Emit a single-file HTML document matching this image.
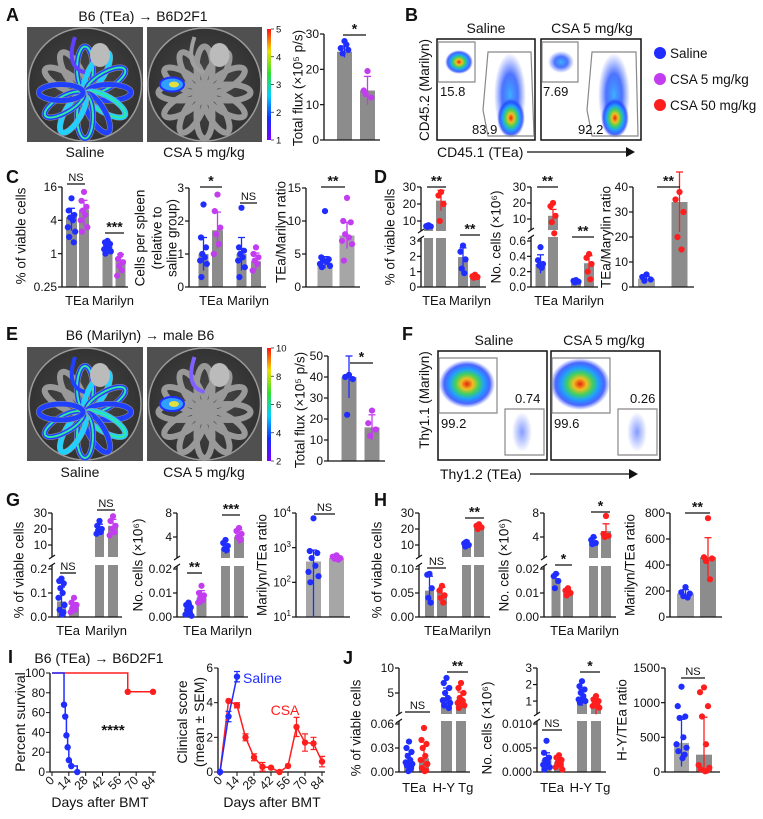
<!DOCTYPE html>
<html><head><meta charset="utf-8">
<style>
html,body{margin:0;padding:0;background:#fff;}
svg{display:block;font-family:"Liberation Sans",sans-serif;}
</style></head>
<body>
<svg id="fig" width="763" height="819" viewBox="0 0 763 819" xmlns="http://www.w3.org/2000/svg">
<defs>
<linearGradient id="cbar" x1="0" y1="1" x2="0" y2="0">
<stop offset="0" stop-color="#7a00ff"/><stop offset="0.2" stop-color="#1030ff"/><stop offset="0.4" stop-color="#00d0ff"/><stop offset="0.6" stop-color="#30e030"/><stop offset="0.8" stop-color="#f0e000"/><stop offset="1" stop-color="#ff1010"/>
</linearGradient>
<radialGradient id="jet">
<stop offset="0" stop-color="#e82010"/><stop offset="0.22" stop-color="#f0c020"/><stop offset="0.42" stop-color="#40d060"/><stop offset="0.62" stop-color="#20a0ff"/><stop offset="0.82" stop-color="#2040ff" stop-opacity="0.8"/><stop offset="1" stop-color="#4060ff" stop-opacity="0"/>
</radialGradient>
<radialGradient id="jetb">
<stop offset="0" stop-color="#40b0ff"/><stop offset="0.5" stop-color="#2050ff" stop-opacity="0.8"/><stop offset="1" stop-color="#4060ff" stop-opacity="0"/>
</radialGradient>
<radialGradient id="sparse">
<stop offset="0" stop-color="#5070ff" stop-opacity="0.7"/><stop offset="1" stop-color="#5070ff" stop-opacity="0"/>
</radialGradient>
<radialGradient id="dish" cx="0.5" cy="0.5" r="0.6">
<stop offset="0" stop-color="#4a4a4a"/><stop offset="1" stop-color="#2e2e2e"/>
</radialGradient>
</defs>
</svg>
<script>
// ===== DATA =====
const fluxA_means=[25,14]; const fluxA_err=[1.6,4];
const fluxA_saline=[28,26,25.5,24.5,27]; const fluxA_csa=[19.5,14,12,13];
const c1_means=[4.6,6.2,1.35,0.78]; const c1_err=[2,3,0.3,0.2];
const c1_pts=[[10,6,5,4.5,4,3,2.5,2,1.6],[13,9,7,6,5,4,3,2.5],[1.7,1.6,1.5,1.4,1.3,1.2,1.1,1.0],[0.95,0.8,0.7,0.6,0.5,0.4]];
const c2_means=[1.0,1.72,1.0,0.78]; const c2_err=[0.5,0.55,0.5,0.25];
const c2_pts=[[2.5,1.5,1.2,1.0,0.9,0.8,0.7,0.3],[2.8,2.3,1.8,1.6,1.3,1.0],[2.4,1.2,1.1,1.0,0.9,0.8,0.6,0.3],[1.2,1.0,0.9,0.8,0.7,0.5]];
const c3_means=[3.7,7.8]; const c3_err=[0.9,2];
const c3_pts=[[11.5,4.5,4.2,4,3.8,3.5,3.2,3],[13.5,10,9.8,8,7.5,7,6.5,4]];
const d1_means=[7,22,1.95,0.7]; const d1_err=[0.4,6,0.6,0.1];
const d1_pts=[[7.5,7,6.8,6.5],[27,25,20,10],[2.7,2.3,1.8,1.2,0.9],[0.8,0.7,0.65,0.6]];
const d2_means=[0.3,12,0.07,0.31]; const d2_err=[0.12,4,0.01,0.1];
const d2_pts=[[0.52,0.35,0.3,0.28,0.25],[20,18,12,8,3],[0.09,0.08,0.07,0.06],[0.43,0.38,0.3,0.2,0.1]];
const d3_means=[3.3,34]; const d3_err=[1,12];
const d3_pts=[[5,4,3,2.5],[38,35,30,20,15]];
const fluxE_means=[40,16]; const fluxE_err=[10,6];
const fluxE_saline=[41,40,39,22]; const fluxE_csa=[24,18,15,12];
const g1_means=[0.065,0.04,20,22]; const g1_err=[0.06,0.02,3,4];
const g1_pts=[[0.16,0.15,0.14,0.12,0.1,0.08,0.05,0.03,0.02,0.01],[0.08,0.06,0.05,0.04,0.03,0.02],[25,22,20,19,18,17],[28,25,22,20,18,16]];
const g2_means=[0.0035,0.008,2,4]; const g2_err=[0.002,0.003,0.8,1.2];
const g2_pts=[[0.006,0.005,0.004,0.003,0.002,0.001,0.0005],[0.013,0.01,0.009,0.008,0.007,0.006],[3.5,3,2.5,2,1.8],[5.5,5,4.5,4,3.5]];
const g3_means=[400,500]; const g3_err=[450,100];
const g3_pts=[[7000,800,700,500,300,200,150,100],[600,550,500,480,450]];
const h1_means=[0.055,0.05,11,21]; const h1_err=[0.03,0.012,1.5,1];
const h1_pts=[[0.09,0.088,0.06,0.04,0.03],[0.065,0.055,0.045,0.04,0.03],[12,11,10,9],[23,22,21,20]];
const h2_means=[0.016,0.01,3.4,5]; const h2_err=[0.002,0.0012,0.5,1.2];
const h2_pts=[[0.018,0.017,0.015,0.012],[0.012,0.011,0.01,0.009],[4,3.5,3,2.8],[7.5,4.5,4.2,4]];
const h3_means=[180,460]; const h3_err=[30,150];
const h3_pts=[[230,190,180,160,150],[760,460,450,430,290]];
const j1_means=[0.013,0.017,4.2,3.7]; const j1_err=[0.01,0.015,1.8,1.5];
const j1_pts=[[0.038,0.03,0.025,0.02,0.015,0.012,0.01,0.008,0.005,0.003,0.001],[0.055,0.04,0.035,0.03,0.02,0.015,0.01,0.005,0.002,0.001],[8,7,6,5,4,3.5,3,2.5,2],[7,6,5,4,3.5,3,2.5,2]];
const j2_means=[0.0025,0.002,1.2,0.6]; const j2_err=[0.0015,0.001,0.5,0.3];
const j2_pts=[[0.0065,0.004,0.003,0.0025,0.002,0.0015,0.001,0.0005],[0.0035,0.003,0.0025,0.002,0.0015,0.001,0.0005],[2.2,1.9,1.7,1.5,1.3,1.1,1.0,0.9],[1.3,1.1,1,0.9,0.8,0.7,0.6]];
const j3_means=[420,250]; const j3_err=[340,540];
const j3_pts=[[1230,950,800,780,500,400,350,300,250,200],[1220,1150,950,800,400,100,60,40,20,10]];
const survSalineDays=[0,10,11,12,13,14,16,21]; const survSalineVals=[100,68,56,37,25,12,6,0];
const survCsaDays=[0,63,84]; const survCsaVals=[100,81,81];
const survDayTicks=[0,14,28,42,56,70,84]; const survValTicks=[0,20,40,60,80,100];
const clinSalineDays=[0,7,14]; const clinSalineVals=[0,3.2,5.5]; const clinSalineSem=[0,0.3,0.3];
const clinCsaDays=[0,7,14,21,28,35,42,49,56,63,70,77,84];
const clinCsaVals=[0,4.1,3.85,2.0,0.85,0.3,0.25,0,0.35,2.6,1.7,1.65,0.6];
const clinCsaSem=[0,0,0.15,0.2,0.2,0.25,0.05,0,0.05,0.55,0.5,0.35,0.3];
const clinValTicks=[0,2,4,6];

// ===== HELPERS =====
const NS='http://www.w3.org/2000/svg';
const svg=document.getElementById('fig');
const BLUE='#1f2dff', PURP='#c23cf0', RED='#ff1e1e', GRAY='#8c8c8c', LGRAY='#a6a6a6';
function mk(tag,attrs,parent){const e=document.createElementNS(NS,tag);for(const k in attrs)e.setAttribute(k,attrs[k]);(parent||svg).appendChild(e);return e;}
function text(x,y,s,size,parent,extra){const t=mk('text',Object.assign({x:x,y:y,'font-size':size,fill:'#111'},extra||{}),parent);t.textContent=s;return t;}
function makeScale(segs){return function(v){for(let i=0;i<segs.length;i++){const s=segs[i];if(v<=s.hi||i===segs.length-1){if(i>0&&v<s.lo){const p=segs[i-1];return p.y1+(v-p.hi)/(s.lo-p.hi)*(s.y0-p.y1);}
 if(s.log){const vv=Math.max(v,s.lo*0.5);return s.y0+(Math.log(vv)-Math.log(s.lo))/(Math.log(s.hi)-Math.log(s.lo))*(s.y1-s.y0);}
 return s.y0+(v-s.lo)/(s.hi-s.lo)*(s.y1-s.y0);}}};}
const JIT=[0,-3,3,-1.5,1.5,-4,4,-2.5,2.5,0.8,-0.8];

function drawChart(name,c){
 const g=mk('g',{});
 
 
 const y=makeScale(c.segs);
 const yb=y(c.segs[0].lo);
 c.groups.forEach(function(gr,i){
  const yt=y(c.means[i]);
  const r=mk('rect',{x:gr.cx-gr.w/2,y:yt,width:gr.w,height:yb-yt,fill:gr.bar||GRAY},g);
  
  
 });
 if(c.gap){
  const b=mk('rect',{x:c.ax+1,y:c.gap[0],width:c.xr-c.ax,height:c.gap[1]-c.gap[0],fill:'#fff'},g);
  
  
 }
 const top=y(c.segs[c.segs.length-1].hi);
 if(c.gap){
  const a1=mk('line',{x1:c.ax,y1:yb,x2:c.ax,y2:c.gap[1],stroke:'#111','stroke-width':1.3},g);
  
  
  const a2=mk('line',{x1:c.ax,y1:c.gap[0],x2:c.ax,y2:top,stroke:'#111','stroke-width':1.3},g);
  
  
  [c.gap[0],c.gap[1]].forEach(function(gy){
   const s=mk('line',{x1:c.ax-3,y1:gy+2,x2:c.ax+3,y2:gy-2,stroke:'#111','stroke-width':1.2},g);
   
   
  });
 } else {
  const a=mk('line',{x1:c.ax,y1:yb,x2:c.ax,y2:top,stroke:'#111','stroke-width':1.3},g);
  
  
 }
 const xa=mk('line',{x1:c.ax,y1:yb,x2:c.xr,y2:yb,stroke:'#111','stroke-width':1.3},g);
 
 
 c.ticks.forEach(function(v,i){
  const ty=y(v);
  const tl=mk('line',{x1:c.ax-4,y1:ty,x2:c.ax,y2:ty,stroke:'#111','stroke-width':1.2},g);
  
  
  const t=text(c.ax-5,ty+4.2,'',12,g,{'text-anchor':'end'});
  if(c.tickSup){t.textContent='10';const ts=mk('tspan',{'font-size':8,dy:-5},t);ts.textContent=c.tickLabels[i];}
  else t.textContent=c.tickLabels[i];
  
  
 });
 c.groups.forEach(function(gr,i){
  const m=c.means[i],e=c.err[i];
  const yh=y(m+e), yl=y(Math.max(m-e,c.segs[0].lo));
  const el=mk('line',{x1:gr.cx,y1:yh,x2:gr.cx,y2:yl,stroke:gr.color,'stroke-width':1.3},g);
  
  
  const cap=mk('line',{x1:gr.cx-3.5,y1:yh,x2:gr.cx+3.5,y2:yh,stroke:gr.color,'stroke-width':1.3},g);
  
  
  c.pts[i].forEach(function(v,k){
   const d=mk('circle',{cx:gr.cx+JIT[k%JIT.length]*gr.w/12,cy:y(v),r:3.1,fill:gr.color},g);
   
   
  });
 });
 (c.sig||[]).forEach(function(s){
  const l=mk('line',{x1:s[0],y1:s[2],x2:s[1],y2:s[2],stroke:'#111','stroke-width':1.3},g);
  
  
  const st=s[3]==='NS';
  const t=text((s[0]+s[1])/2,s[2]-(st?3:1.5),s[3],st?11:14,g,{'text-anchor':'middle','font-weight':st?'normal':'bold'});
  
  
 });
 (c.xlabels||[]).forEach(function(xl){
  const t=text(xl[0],c.xlY,xl[1],13,g,{'text-anchor':'middle'});
  
  
 });
 c.ylabel.forEach(function(yl){
  const t=text(yl[0]+4.5,yl[1],yl[2],13.5,g,{'text-anchor':'middle',transform:'rotate(-90 '+(yl[0]+4.5)+' '+yl[1]+')'});
  
  
 });
}

function gp(cx,w,color,bar){return {cx:cx,w:w,color:color,bar:bar};}

// ===== PANEL LETTERS & TITLES =====
[['A',6,21],['B',405,21],['C',6,183],['D',374,183],['E',6,340],['F',402,340],['G',6,506],['H',374,506],['I',8,663],['J',343,664]].forEach(function(p){
 const t=text(p[1],p[2],p[0],18,svg,{'font-weight':'bold'});
 
 
});
[[143,21,'B6 (TEa) → B6D2F1'],[140,340,'B6 (Marilyn) → male B6'],[99,663,'B6 (TEa) → B6D2F1']].forEach(function(p){
 const t=text(p[0],p[1],p[2],14,svg,{'text-anchor':'middle'});
 
 
});

// ===== IMAGES =====
function drawDish(x,y,w,h,saline,name,upper){
 const g=mk('g',{});
 
 
 mk('rect',{x:x,y:y,width:w,height:h,fill:'#505050'},g);
 mk('circle',{cx:x+w/2,cy:y+h/2,r:Math.min(w,h)/2-1,fill:'url(#dish)',stroke:'#9a9a9a','stroke-width':1.5},g);
 const cx=x+w/2, cy=y+h/2+8;
 const angs=[-150,-120,-90,-60,-30,0,30,60,90,120,150,180];
 angs.forEach(function(a,i){
  const rad=a*Math.PI/180;
  const px=cx+Math.cos(rad)*24, py=cy+Math.sin(rad)*24;
  const col=saline?(i%3===0?'#20d0ff':'#2040ff'):'#b0b0b0';
  mk('ellipse',{cx:px,cy:py,rx:22,ry:8,fill:'none',stroke:'#999','stroke-width':6,transform:'rotate('+a+' '+px+' '+py+')'},g);
  if(saline&&i>1)mk('ellipse',{cx:px,cy:py,rx:22,ry:8,fill:'none',stroke:col,'stroke-width':5,transform:'rotate('+a+' '+px+' '+py+')'},g);
  if(saline&&i>1&&i%2===0)mk('ellipse',{cx:px,cy:py,rx:22,ry:8,fill:'none',stroke:'#30e8a0','stroke-width':2,transform:'rotate('+a+' '+px+' '+py+')'},g);
 });
 mk('path',{d:'M'+cx+' '+(cy-20)+' Q'+(cx-20)+' '+(y+40)+' '+(cx-10)+' '+(y+10),fill:'none',stroke:upper,'stroke-width':4},g);
 mk('ellipse',{cx:cx+15,cy:y+28,rx:10,ry:12,fill:'#bbb'},g);
 if(!saline){
  mk('ellipse',{cx:x+25,cy:y+h/2,rx:12,ry:7,fill:'#30a0ff',stroke:'#2030ff','stroke-width':2},g);
  mk('ellipse',{cx:x+27,cy:y+h/2,rx:5,ry:3,fill:'#e0e040'},g);
 }
}
drawDish(27,27,116,115,true,'image-saline-a','#6040ff');
drawDish(147,27,115,115,false,'image-csa-a','#a0a0a0');
drawDish(27,347,116,114,true,'image-saline-e','#2040ff');
drawDish(147,347,115,114,false,'image-csa-e','#8060ff');

function colorbar(x,y0,y1,labels,name){
 const r=mk('rect',{x:x,y:y0,width:4,height:y1-y0,fill:'url(#cbar)'});
 
 
 labels.forEach(function(l,i){
  const ty=y0+(y1-y0)*i/(labels.length-1);
  mk('line',{x1:x+4,y1:ty,x2:x+7,y2:ty,stroke:'#333','stroke-width':0.8});
  const t=text(x+9,ty+3.5,l,9.5);
  
  
 });
}
colorbar(267,29,140,['5','4','3','2','1'],'colorbar-a');
colorbar(267,348,461,['10','8','6','4','2'],'colorbar-e');
[[85,157,'Saline'],[204,157,'CSA 5 mg/kg'],[80,477,'Saline'],[204,477,'CSA 5 mg/kg']].forEach(function(p){
 const t=text(p[0],p[1],p[2],14,svg,{'text-anchor':'middle'});
 
 
});

// ===== BAR CHARTS =====
drawChart('chart-a-flux',{segs:[{lo:0,hi:30,y0:140,y1:34}],ax:324,xr:380,ticks:[0,10,20,30],tickLabels:['0','10','20','30'],
 means:fluxA_means,err:fluxA_err,pts:[fluxA_saline,fluxA_csa],groups:[gp(344.5,15,BLUE),gp(367.5,15,PURP)],
 sig:[[343,366,35,'*']],ylabel:[[298,88,'Total flux (×10⁵ p/s)']]});
drawChart('chart-e-flux',{segs:[{lo:0,hi:50,y0:461,y1:356}],ax:328,xr:385,ticks:[0,10,20,30,40,50],tickLabels:['0','10','20','30','40','50'],
 means:fluxE_means,err:fluxE_err,pts:[fluxE_saline,fluxE_csa],groups:[gp(349,15,BLUE),gp(372,15,PURP)],
 sig:[[350,373,363,'*']],ylabel:[[300,410,'Total flux (×10⁵ p/s)']]});
drawChart('chart-c-viable',{segs:[{lo:0.25,hi:16,y0:287,y1:187,log:true}],ax:62,xr:128,ticks:[0.25,1,4,16],tickLabels:['0.25','1','4','16'],
 means:c1_means,err:c1_err,pts:c1_pts,groups:[gp(71.5,11,BLUE),gp(84,10,PURP),gp(107.5,10,BLUE),gp(120.5,10,PURP)],
 sig:[[67,85,184,'NS'],[105,124,233,'***']],xlY:305,xlabels:[[77,'TEa'],[113,'Marilyn']],ylabel:[[21,236,'% of viable cells']]});
drawChart('chart-c-cells',{segs:[{lo:0,hi:3,y0:287,y1:188}],ax:189,xr:266,ticks:[0,1,2,3],tickLabels:['0','1','2','3'],
 means:c2_means,err:c2_err,pts:c2_pts,groups:[gp(203.5,10,BLUE),gp(217.5,11,PURP),gp(241.5,10,BLUE),gp(256,10,PURP)],
 sig:[[200,222,187,'*'],[240,257,203,'NS']],xlY:305,xlabels:[[211,'TEa'],[248,'Marilyn']],
 ylabel:[[140,238,'Cells per spleen'],[157,238,'(relative to'],[172,238,'saline group)']]});
drawChart('chart-c-ratio',{segs:[{lo:0,hi:15,y0:287,y1:188}],ax:306,xr:360,ticks:[0,5,10,15],tickLabels:['0','5','10','15'],
 means:c3_means,err:c3_err,pts:c3_pts,groups:[gp(325,15,BLUE,LGRAY),gp(347,15,PURP,LGRAY)],
 sig:[[321,345,187,'**']],ylabel:[[281,232,'TEa/Marilyn ratio']]});
drawChart('chart-d-viable',{segs:[{lo:0,hi:3,y0:287,y1:241},{lo:5,hi:30,y0:229.5,y1:187}],gap:[231,238],ax:421,xr:486,ticks:[0,1,2,3,10,20,30],tickLabels:['0','1','2','3','10','20','30'],
 means:d1_means,err:d1_err,pts:d1_pts,groups:[gp(428.5,9,BLUE),gp(441,10,RED),gp(463,10,BLUE),gp(475,10,RED)],
 sig:[[427,446,187,'**'],[460,480,235,'**']],xlY:305,xlabels:[[434,'TEa'],[470,'Marilyn']],ylabel:[[390,237,'% of viable cells']]});
drawChart('chart-d-cells',{segs:[{lo:0,hi:0.6,y0:287,y1:241},{lo:5,hi:30,y0:227,y1:187}],gap:[230,237],ax:531,xr:598,ticks:[0,0.2,0.4,0.6,10,20,30],tickLabels:['0.0','0.2','0.4','0.6','10','20','30'],
 means:d2_means,err:d2_err,pts:d2_pts,groups:[gp(540.5,10,BLUE),gp(553,10,RED),gp(576,10,BLUE),gp(589,10,RED)],
 sig:[[537,558,187,'**'],[572,594,237,'**']],xlY:305,xlabels:[[546,'TEa'],[583,'Marilyn']],ylabel:[[496,237,'No. cells (×10⁶)']]});
drawChart('chart-d-ratio',{segs:[{lo:0,hi:40,y0:287,y1:187}],ax:633,xr:694,ticks:[0,10,20,30,40],tickLabels:['0','10','20','30','40'],
 means:d3_means,err:d3_err,pts:d3_pts,groups:[gp(646.5,17,BLUE,LGRAY),gp(679.5,16,RED,GRAY)],
 sig:[[657,680,187,'**']],ylabel:[[606,237,'TEa/Marylin ratio']]});
drawChart('chart-g-viable',{segs:[{lo:0,hi:0.2,y0:617,y1:569},{lo:5,hi:30,y0:553,y1:513}],gap:[557,565],ax:52,xr:122,ticks:[0,0.1,0.2,10,20,30],tickLabels:['0.0','0.1','0.2','10','20','30'],
 means:g1_means,err:g1_err,pts:g1_pts,groups:[gp(61.5,9,BLUE),gp(74,10,PURP),gp(99.5,9,BLUE),gp(113,10,PURP)],
 sig:[[60,76,573,'NS'],[97,115,510,'NS']],xlY:635,xlabels:[[68,'TEa'],[106,'Marilyn']],ylabel:[[19,570,'% of viable cells']]});
drawChart('chart-g-cells',{segs:[{lo:0,hi:0.02,y0:617,y1:569},{lo:1,hi:8,y0:555,y1:513}],gap:[558,566],ax:177,xr:248,ticks:[0,0.01,0.02,4,8],tickLabels:['0.00','0.01','0.02','4','8'],
 means:g2_means,err:g2_err,pts:g2_pts,groups:[gp(188.5,9,BLUE),gp(201.5,10,PURP),gp(225.5,9,BLUE),gp(239,10,PURP)],
 sig:[[187,202,573,'**'],[222,240,515,'***']],xlY:635,xlabels:[[195,'TEa'],[231,'Marilyn']],ylabel:[[138,565,'No. cells (×10⁶)']]});
drawChart('chart-g-ratio',{segs:[{lo:10,hi:10000,y0:617,y1:513,log:true}],ax:296,xr:350,ticks:[10,100,1000,10000],tickLabels:['1','2','3','4'],tickSup:true,
 means:g3_means,err:g3_err,pts:g3_pts,groups:[gp(313.5,15,BLUE,LGRAY),gp(336.5,15,PURP,LGRAY)],
 sig:[[314,335,514,'NS']],ylabel:[[262,565,'Marilyn/TEa ratio']]});
drawChart('chart-h-viable',{segs:[{lo:0,hi:0.1,y0:617,y1:569},{lo:5,hi:30,y0:553,y1:513}],gap:[557,565],ax:419,xr:490,ticks:[0,0.05,0.1,10,20,30],tickLabels:['0.00','0.05','0.10','10','20','30'],
 means:h1_means,err:h1_err,pts:h1_pts,groups:[gp(429.5,9,BLUE),gp(442,10,RED),gp(466.5,9,BLUE),gp(479,10,RED)],
 sig:[[427,446,568,'NS'],[465,484,518,'**']],xlY:635,xlabels:[[436,'TEa'],[470,'Marilyn']],ylabel:[[377,570,'% of viable cells']]});
drawChart('chart-h-cells',{segs:[{lo:0,hi:0.02,y0:617,y1:569},{lo:1,hi:8,y0:555,y1:513}],gap:[558,566],ax:544,xr:616,ticks:[0,0.01,0.02,4,8],tickLabels:['0.00','0.01','0.02','4','8'],
 means:h2_means,err:h2_err,pts:h2_pts,groups:[gp(556,9,BLUE),gp(568,10,RED),gp(593.5,9,BLUE),gp(606,10,RED)],
 sig:[[555,572,565,'*'],[591,610,512,'*']],xlY:635,xlabels:[[562,'TEa'],[598,'Marilyn']],ylabel:[[504,565,'No. cells (×10⁶)']]});
drawChart('chart-h-ratio',{segs:[{lo:0,hi:800,y0:617,y1:513}],ax:670,xr:722,ticks:[0,200,400,600,800],tickLabels:['0','200','400','600','800'],
 means:h3_means,err:h3_err,pts:h3_pts,groups:[gp(685.5,17,BLUE,LGRAY),gp(708,16,RED,GRAY)],
 sig:[[685,710,513,'**']],ylabel:[[630,565,'Marilyn/TEa ratio']]});
drawChart('chart-j-viable',{segs:[{lo:0,hi:0.06,y0:772,y1:724},{lo:1,hi:10,y0:713,y1:668}],gap:[714,721],ax:399,xr:470,ticks:[0,0.03,0.06,5,10],tickLabels:['0.00','0.03','0.06','5','10'],
 means:j1_means,err:j1_err,pts:j1_pts,groups:[gp(409,10,BLUE),gp(424,10,RED),gp(446.5,11,BLUE),gp(461,10,RED)],
 sig:[[405,430,712,'NS'],[447,468,672,'**']],xlY:792,xlabels:[[414,'TEa'],[453,'H-Y Tg']],ylabel:[[356,728,'% of viable cells']]});
drawChart('chart-j-cells',{segs:[{lo:0,hi:0.01,y0:772,y1:724},{lo:0.4,hi:3,y0:711,y1:668}],gap:[714,721],ax:537,xr:606,ticks:[0,0.005,0.01,1,2,3],tickLabels:['0.000','0.005','0.010','1','2','3'],
 means:j2_means,err:j2_err,pts:j2_pts,groups:[gp(546.5,10,BLUE),gp(559,10,RED),gp(582,10,BLUE),gp(596,10,RED)],
 sig:[[542,562,730,'NS'],[580,600,672,'*']],xlY:792,xlabels:[[552,'TEa'],[590,'H-Y Tg']],ylabel:[[487,728,'No. cells (×10⁶)']]});
drawChart('chart-j-ratio',{segs:[{lo:0,hi:1500,y0:772,y1:668}],ax:665,xr:720,ticks:[0,500,1000,1500],tickLabels:['0','500','1000','1500'],
 means:j3_means,err:j3_err,pts:j3_pts,groups:[gp(681.5,15,BLUE,LGRAY),gp(704,16,RED,GRAY)],
 sig:[[681,705,678,'NS']],ylabel:[[622,720,'H-Y/TEa ratio']]});

// ===== FLOW PLOTS =====
function flow(name,bx,by,bw,bh,spec){
 const g=mk('g',{});
 
 
 mk('rect',{x:bx,y:by,width:bw,height:bh,fill:'#fff',stroke:'#111','stroke-width':1.5},g);
 spec.blobs.forEach(function(b){mk('ellipse',{cx:b[0],cy:b[1],rx:b[2],ry:b[3],fill:'url(#'+b[4]+')'},g);});
 spec.gates.forEach(function(p){mk('polygon',{points:p,fill:'none',stroke:'#888','stroke-width':1.2},g);});
 spec.labels.forEach(function(l){const t=text(l[0],l[1],l[2],13,g);});
}
flow('flow-b-saline',437,39,98,101,{blobs:[[459,62,14,12,'jet'],[510,95,16,42,'jetb'],[511,118,14,20,'jet']],
 gates:['438,42 475,42 475,82 438,82','488,52 531,52 534,136 488,136 483,110'],labels:[[440,96,'15.8'],[472,134,'83.9']]});
flow('flow-b-csa',541,39,100,101,{blobs:[[561,62,13,11,'jetb'],[614,95,16,42,'jetb'],[615,118,14,20,'jet']],
 gates:['542,42 578,42 578,82 542,82','592,52 636,52 638,136 592,136 587,110'],labels:[[543,96,'7.69'],[578,134,'92.2']]});
flow('flow-f-saline',438,351,109,109,{blobs:[[467,384,28,24,'jet'],[522,432,10,20,'sparse']],
 gates:['439,358 497,358 497,413 439,413','505,409 544,409 544,455 505,455'],labels:[[441,428,'99.2'],[515,403,'0.74']]});
flow('flow-f-csa',551,351,109,109,{blobs:[[580,384,30,26,'jet'],[637,432,10,20,'sparse']],
 gates:['552,358 610,358 610,413 552,413','618,409 657,409 657,455 618,455'],labels:[[554,428,'99.6'],[630,403,'0.26']]});
[[486,33,'Saline'],[592,33,'CSA 5 mg/kg'],[494,345,'Saline'],[604,345,'CSA 5 mg/kg']].forEach(function(p){
 const t=text(p[0],p[1],p[2],14,svg,{'text-anchor':'middle'});
 
 
});
[[429,90,'CD45.2 (Marilyn)'],[429,400,'Thy1.1 (Marilyn)']].forEach(function(p){
 const t=text(p[0],p[1],p[2],13.5,svg,{'text-anchor':'middle',transform:'rotate(-90 '+p[0]+' '+p[1]+')'});
 
 
});
[[437,157,'CD45.1 (TEa)',527,635,152],[440,479,'Thy1.2 (TEa)',530,638,474]].forEach(function(p){
 const t=text(p[0],p[1],p[2],14,svg);
 
 
 const l=mk('line',{x1:p[3],y1:p[5],x2:p[4]-8,y2:p[5],stroke:'#111','stroke-width':1.3});
 
 
 mk('polygon',{points:(p[4]-9)+','+(p[5]-5)+' '+p[4]+','+p[5]+' '+(p[4]-9)+','+(p[5]+5),fill:'#111'});
});
// legend
[[BLUE,'Saline',53],[PURP,'CSA 5 mg/kg',79],[RED,'CSA 50 mg/kg',105]].forEach(function(p){
 const c=mk('circle',{cx:660,cy:p[2],r:6,fill:p[0]});
 
 
 const t=text(670,p[2]+5,p[1],13.5);
 
 
});

// ===== PANEL I =====
(function(){
 const g=mk('g',{});
 
 
 const X=function(d){return 52+d/84*101;}, Y=function(v){return 772-v/100*99;};
 mk('line',{x1:50,y1:Y(0),x2:50,y2:Y(100),stroke:'#111','stroke-width':1.3},g);
 mk('line',{x1:50,y1:Y(0),x2:X(84)+3,y2:Y(0),stroke:'#111','stroke-width':1.3},g);
 survValTicks.forEach(function(v){mk('line',{x1:46,y1:Y(v),x2:50,y2:Y(v),stroke:'#111'},g);const t=text(45,Y(v)+4,String(v),12,g,{'text-anchor':'end'});});
 survDayTicks.forEach(function(d){mk('line',{x1:X(d),y1:Y(0),x2:X(d),y2:Y(0)+4,stroke:'#111'},g);const t=text(X(d)+3,Y(0)+9,String(d),12,g,{'text-anchor':'end',transform:'rotate(-45 '+(X(d)+3)+' '+(Y(0)+9)+')'});});
 function step(days,vals,col,dotFrom){let d='M'+X(days[0])+' '+Y(vals[0]);for(let i=1;i<days.length;i++){d+=' H'+X(days[i])+' V'+Y(vals[i]);}
  const p=mk('path',{d:d,fill:'none',stroke:col,'stroke-width':1.5},g);
  for(let i=dotFrom;i<days.length;i++){const c=mk('circle',{cx:X(days[i]),cy:Y(vals[i]),r:3.2,fill:col},g);}}
 step(survCsaDays,survCsaVals,RED,1);
 step(survSalineDays,survSalineVals,BLUE,1);
 const s=text(113,735,'****',15,g,{'text-anchor':'middle','font-weight':'bold'});
 const xl=text(100,807,'Days after BMT',14,g,{'text-anchor':'middle'});
 const yl=text(25,722,'Percent survival',14,g,{'text-anchor':'middle',transform:'rotate(-90 25 722)'});
})();
(function(){
 const g=mk('g',{});
 
 
 const X=function(d){return 220+d/84*102;}, Y=function(v){return 772-v/6*104;};
 mk('line',{x1:218,y1:Y(0),x2:218,y2:Y(6),stroke:'#111','stroke-width':1.3},g);
 mk('line',{x1:218,y1:Y(0),x2:X(84)+3,y2:Y(0),stroke:'#111','stroke-width':1.3},g);
 clinValTicks.forEach(function(v){mk('line',{x1:214,y1:Y(v),x2:218,y2:Y(v),stroke:'#111'},g);const t=text(213,Y(v)+4,String(v),12,g,{'text-anchor':'end'});});
 survDayTicks.forEach(function(d){mk('line',{x1:X(d),y1:Y(0),x2:X(d),y2:Y(0)+4,stroke:'#111'},g);const t=text(X(d)+3,Y(0)+9,String(d),12,g,{'text-anchor':'end',transform:'rotate(-45 '+(X(d)+3)+' '+(Y(0)+9)+')'});});
 function series(days,vals,sem,col,nm){
  const p=mk('polyline',{points:days.map(function(d,i){return X(d)+','+Y(vals[i]);}).join(' '),fill:'none',stroke:col,'stroke-width':1.5},g);
  
  
  days.forEach(function(d,i){
   if(sem[i]>0){mk('path',{d:'M'+X(d)+' '+Y(vals[i]-sem[i])+' V'+Y(vals[i]+sem[i])+' M'+(X(d)-3)+' '+Y(vals[i]+sem[i])+' h6 M'+(X(d)-3)+' '+Y(vals[i]-sem[i])+' h6',stroke:col,'stroke-width':1.2,fill:'none'},g);}
   const c=mk('circle',{cx:X(d),cy:Y(vals[i]),r:3.2,fill:col},g);
   
   
  });
 }
 series(clinCsaDays,clinCsaVals,clinCsaSem,RED,'csa');
 series(clinSalineDays,clinSalineVals,clinSalineSem,BLUE,'saline');
 const l1=text(243,683,'Saline',14,g,{fill:BLUE});
 const l2=text(285,715,'CSA',14,g,{fill:RED,'text-anchor':'middle'});
 const xl=text(272,807,'Days after BMT',14,g,{'text-anchor':'middle'});
 [[187,'Clinical score'],[204,'(mean ± SEM)']].forEach(function(p){const t=text(p[0],722,p[1],14,g,{'text-anchor':'middle',transform:'rotate(-90 '+p[0]+' 722)'});});
})();
</script>
</body></html>
